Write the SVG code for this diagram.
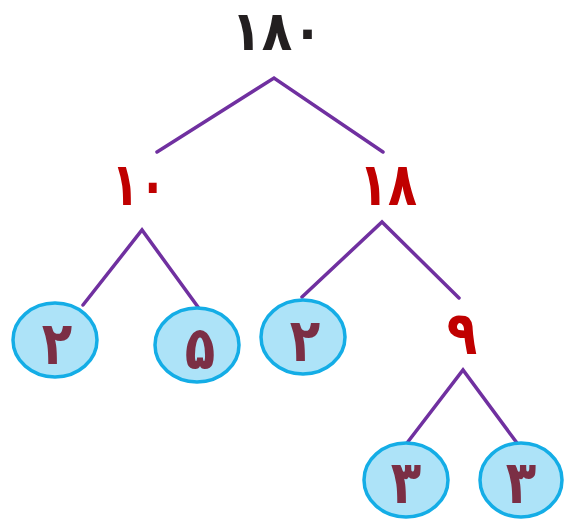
<svg xmlns="http://www.w3.org/2000/svg" width="564" height="520" viewBox="0 0 564 520">
<style>
.ln{stroke:#7030a0;stroke-width:3.5;fill:none;stroke-linecap:round}
.el{fill:#ade3f8;stroke:#14ade6;stroke-width:3.5}
.t{font-family:"DejaVu Sans","Noto Sans",sans-serif;font-weight:bold;font-size:50px;text-anchor:middle}
.top{fill:#231f20}
.red{fill:#c00000}
.leaf{fill:#7b2f45}
</style>
<rect width="564" height="520" fill="#fff"/>
<g id="connectors">
<polyline class="ln" points="157,152 274,78 383,152"/>
<polyline class="ln" points="83,305 142,230 198,307"/>
<polyline class="ln" points="302,297 382,222 459,298"/>
<polyline class="ln" points="407,443 463,370 517,443"/>
</g>
<g id="n180"><text class="t top" transform="translate(277,50) scale(1,1.1)">۱۸۰</text></g>
<g id="n10"><text class="t red" transform="translate(139,205) scale(0.9,1.2)">۱۰</text></g>
<g id="n18"><text class="t red" transform="translate(388,205) scale(0.95,1.2)">۱۸</text></g>
<g id="n2a"><ellipse class="el" cx="55" cy="340" rx="42" ry="37"/><text class="t leaf" transform="translate(57,364) scale(1,1.2)">۲</text></g>
<g id="n5"><ellipse class="el" cx="197" cy="345" rx="42" ry="37"/><text class="t leaf" transform="translate(200,369) scale(1,1.2)">۵</text></g>
<g id="n2b"><ellipse class="el" cx="303" cy="337" rx="42" ry="37"/><text class="t leaf" transform="translate(305,361) scale(1,1.2)">۲</text></g>
<g id="n9"><text class="t red" transform="translate(462,354) scale(1,1.2)">۹</text></g>
<g id="n3a"><ellipse class="el" cx="406" cy="480" rx="42" ry="37"/><text class="t leaf" transform="translate(406,503) scale(1,1.2)">۳</text></g>
<g id="n3b"><ellipse class="el" cx="521" cy="480" rx="41" ry="37"/><text class="t leaf" transform="translate(521,503) scale(1,1.2)">۳</text></g>
</svg>
